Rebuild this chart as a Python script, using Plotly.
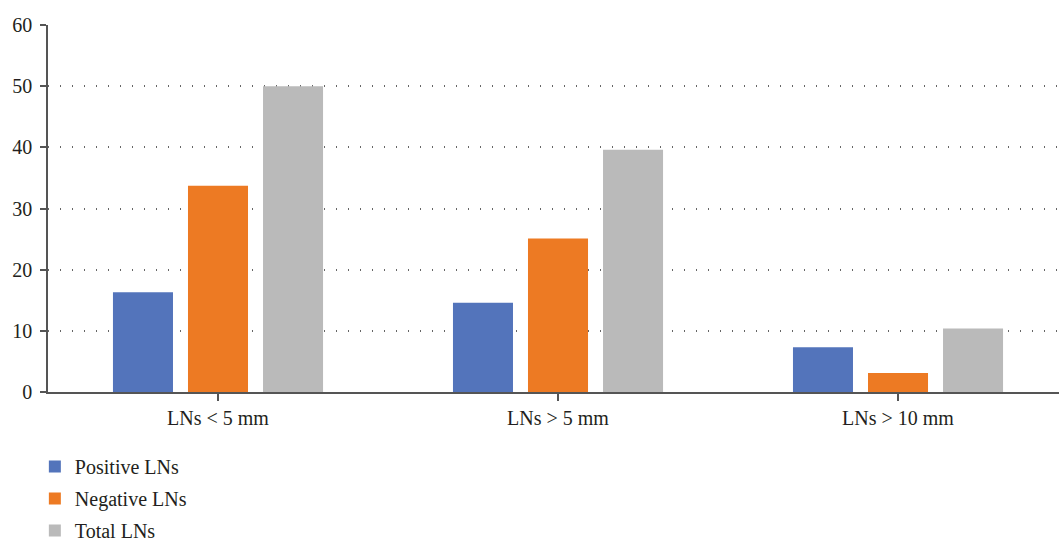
import plotly.graph_objects as go

categories = ["LNs < 5 mm", "LNs > 5 mm", "LNs > 10 mm"]
positive_lns = [16.3, 14.6, 7.3]
negative_lns = [33.7, 25.1, 3.1]
total_lns = [50.0, 39.6, 10.4]
y_ticks = [0, 10, 20, 30, 40, 50, 60]

series = [
    ("Positive LNs", positive_lns, "#5374BB"),
    ("Negative LNs", negative_lns, "#ED7A23"),
    ("Total LNs", total_lns, "#BABABA"),
]

font_family = "Liberation Serif, DejaVu Serif, serif"
axis_color = "#555555"

fig = go.Figure()
for i, (name, vals, color) in enumerate(series):
    fig.add_trace(go.Bar(
        x=list(range(len(categories))),
        y=vals,
        name=name,
        marker=dict(color=color, line=dict(width=0)),
        legendgroup=f"g{i}",
    ))

fig.update_layout(
    width=1059,
    height=542,
    margin=dict(l=48, r=0, t=25, b=150, autoexpand=False),
    paper_bgcolor="white",
    plot_bgcolor="white",
    barmode="group",
    bargap=0.338,
    bargroupgap=0.2,
    font=dict(family=font_family, size=20, color="#231F20"),
    xaxis=dict(
        tickmode="array",
        tickvals=list(range(len(categories))),
        ticktext=categories,
        range=[-0.5, 2.4735],
        showline=True,
        linecolor=axis_color,
        linewidth=1.5,
        ticks="outside",
        ticklen=7,
        tickwidth=1.5,
        tickcolor=axis_color,
        showgrid=False,
        zeroline=False,
        tickfont=dict(size=20),
    ),
    yaxis=dict(
        range=[0, 60],
        tickmode="array",
        tickvals=y_ticks,
        showline=True,
        linecolor=axis_color,
        linewidth=1.5,
        ticks="outside",
        ticklen=6,
        tickwidth=1.5,
        tickcolor=axis_color,
        ticklabelstandoff=4,
        showgrid=True,
        gridcolor="#666666",
        gridwidth=1.5,
        griddash="1px,11px",
        zeroline=False,
        tickfont=dict(size=20),
    ),
    legend=dict(
        orientation="v",
        x=-0.013,
        xanchor="left",
        y=-0.15,
        yanchor="top",
        traceorder="grouped",
        tracegroupgap=3,
        font=dict(size=20),
        bgcolor="rgba(0,0,0,0)",
    ),
)

fig.write_html("out.html")
